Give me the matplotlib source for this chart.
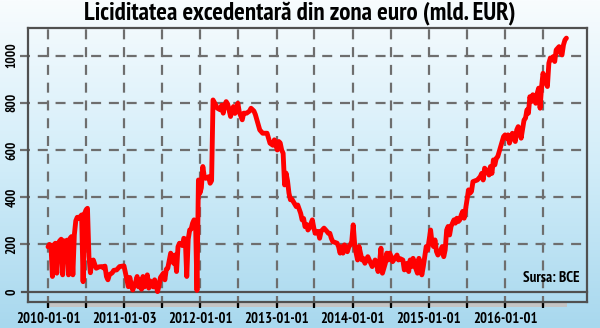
import numpy as np
import pandas as pd
import matplotlib
matplotlib.use('Agg')
import matplotlib.pyplot as plt
import matplotlib.transforms as mtransforms
from matplotlib import font_manager as fm
from matplotlib.patches import Rectangle
from matplotlib.colors import LinearSegmentedColormap

# weekly observations: week number counted from 2010-01-01, value in mld. EUR
weeks = [0, 1, 2, 3, 4, 5, 6, 7, 8, 9, 10, 11, 12, 13, 14, 15, 16, 17, 18, 19,
         20, 21, 22, 23, 24, 25, 26, 27, 28, 29, 30, 31, 32, 33, 35, 37, 38, 39, 40, 41,
         42, 44, 45, 47, 49, 52, 53, 54, 55, 56, 57, 58, 60, 61, 62, 63, 64, 65, 66, 68,
         69, 70, 72, 73, 75, 76, 77, 79, 80, 81, 82, 84, 85, 86, 87, 88, 89, 90, 92, 93,
         94, 95, 96, 97, 98, 99, 100, 101, 102, 103, 104, 105, 106, 107, 108, 110, 111, 112, 113, 114,
         116, 118, 119, 120, 121, 122, 123, 125, 126, 127, 128, 129, 130, 131, 133, 134, 136, 138, 139, 141,
         142, 143, 145, 147, 150, 152, 154, 155, 157, 158, 159, 160, 161, 162, 163, 164, 165, 166, 167, 168,
         170, 171, 173, 174, 175, 176, 177, 178, 179, 181, 182, 183, 184, 185, 186, 187, 189, 191, 192, 193,
         194, 195, 198, 199, 200, 201, 202, 203, 205, 206, 207, 208, 209, 210, 211, 212, 213, 214, 215, 216,
         217, 218, 219, 221, 222, 223, 224, 225, 226, 227, 228, 229, 231, 232, 233, 234, 235, 236, 239, 240,
         241, 243, 244, 246, 247, 248, 249, 250, 251, 253, 254, 255, 256, 257, 258, 259, 260, 262, 263, 264,
         265, 266, 267, 268, 270, 271, 272, 273, 274, 275, 276, 278, 279, 280, 281, 282, 283, 284, 285, 287,
         288, 289, 290, 291, 294, 296, 297, 298, 299, 301, 302, 303, 304, 305, 306, 307, 308, 310, 311, 312,
         313, 314, 315, 316, 318, 319, 320, 321, 322, 323, 324, 326, 327, 328, 329, 330, 331, 332, 334, 335,
         336, 337, 338, 339, 340, 342, 343, 344, 345, 346, 347, 348, 350, 351, 352, 353, 354, 355]
values = [190, 200, 195, 64, 198, 205, 78, 205, 215, 222, 71, 215, 210, 218, 71, 225, 233, 71, 240, 300,
          315, 310, 318, 325, 42, 330, 346, 353, 150, 80, 130, 134, 115, 99, 105, 106, 100, 108, 64, 50,
          71, 80, 90, 92, 106, 109, 80, 50, 21, 60, 30, 7, 40, 64, 20, 45, 10, 64, 20, 71,
          15, 45, 20, 50, 0, 25, 60, 78, 50, 95, 99, 163, 150, 120, 155, 85, 190, 205, 195, 226,
          222, 64, 222, 261, 265, 290, 304, 300, 5, 473, 417, 440, 530, 487, 480, 487, 459, 470, 812, 800,
          777, 770, 790, 756, 790, 805, 795, 742, 770, 784, 755, 770, 798, 760, 728, 756, 756, 765, 777, 765,
          750, 728, 685, 671, 671, 629, 620, 643, 600, 636, 630, 600, 586, 452, 502, 470, 417, 389, 392, 381,
          360, 367, 332, 304, 310, 275, 285, 261, 270, 304, 270, 247, 255, 255, 226, 255, 269, 255, 247, 247,
          226, 212, 205, 190, 163, 190, 163, 198, 169, 190, 198, 212, 283, 200, 163, 134, 191, 163, 134, 140,
          120, 134, 148, 120, 106, 120, 134, 120, 85, 120, 184, 78, 120, 163, 134, 163, 148, 127, 155, 134,
          140, 134, 92, 120, 85, 134, 106, 141, 113, 78, 141, 106, 71, 106, 148, 191, 177, 261, 205, 191,
          219, 170, 155, 163, 191, 148, 177, 261, 276, 240, 276, 304, 290, 311, 297, 304, 325, 340, 311, 389,
          431, 417, 424, 466, 473, 487, 501, 473, 523, 509, 494, 530, 501, 558, 537, 565, 572, 614, 635, 657,
          664, 650, 664, 629, 671, 657, 636, 685, 699, 685, 650, 727, 735, 770, 756, 826, 805, 834, 798, 840,
          862, 777, 868, 925, 897, 869, 968, 990, 982, 996, 975, 1024, 1038, 1010, 1003, 1045, 1066, 1074]

start = '2010-01-01'
grid_dates = pd.date_range('2010-01-01', '2016-07-01', freq='6MS')
tick_dates = ['2010-01-01', '2011-01-01', '2012-01-01', '2013-01-01',
              '2014-01-01', '2015-01-01', '2016-01-01']
tick_labels = ['2010-01-01', '2011-01-03', '2012-01-01', '2013-01-01',
               '2014-01-01', '2015-01-01', '2016-01-01']
yticks = [0, 200, 400, 600, 800, 1000]
title = 'Liciditatea excedentară din zona euro (mld. EUR)'
source = 'Sursa: BCE'


# look for a bold condensed face; fall back to DejaVu Sans Bold
def pick_font():
    good = []
    for f in fm.fontManager.ttflist:
        nm = (f.name + ' ' + str(f.stretch) + ' ' + f.fname).lower()
        w = f.weight if isinstance(f.weight, int) else (700 if 'bold' in str(f.weight) else 400)
        if ('condens' in nm or 'narrow' in nm) and w >= 600 and 'italic' not in nm and 'oblique' not in nm:
            good.append(f)
    good.sort(key=lambda f: ('narrow' not in f.fname.lower(), 'extra' in f.fname.lower(), f.fname))
    if good:
        return fm.FontProperties(fname=good[0].fname), True
    return fm.FontProperties(family='DejaVu Sans', weight='bold'), False


fp, condensed = pick_font()
k = 1.0 if condensed else 0.72

dates = pd.Timestamp(start) + pd.to_timedelta(np.array(weeks) * 7, unit='D')

fig = plt.figure(figsize=(6, 3.28), dpi=100)

# light blue gradient behind everything
bg = fig.add_axes([0, 0, 1, 1], zorder=-10)
cmap = LinearSegmentedColormap.from_list('bg', ['#a8d8ee', '#d2edf9', '#f8fcfe'])
bg.imshow(np.linspace(0, 1, 256).reshape(-1, 1), aspect='auto', cmap=cmap,
          origin='lower', extent=[0, 1, 0, 1])
bg.axis('off')

ax = fig.add_axes([0.0467, 0.0793, 0.9317, 0.8354])
ax.patch.set_alpha(0)
ax.set_xlim(pd.Timestamp('2009-09-27'), pd.Timestamp('2017-01-28'))
ax.set_ylim(-44, 1117)

grid_kw = dict(color='#6e6e6e', lw=1.6, dashes=(4.5, 3.5), clip_on=False, zorder=1)
tx = mtransforms.blended_transform_factory(ax.transData, ax.transAxes)
ty = mtransforms.blended_transform_factory(ax.transAxes, ax.transData)
for d in grid_dates:
    ax.plot([d, d], [-0.015, 1], transform=tx, **grid_kw)
for v in yticks[1:]:
    ax.plot([-0.015, 1], [v, v], transform=ty, **grid_kw)
ax.plot([-0.011, 1], [0, 0], transform=ty, color='#505050', lw=1.6,
        clip_on=False, zorder=2)

# grey band under the frame
band_end = pd.Timestamp('2016-10-24')
x0 = pd.Timestamp(start)
ax.add_patch(Rectangle((x0, -0.019), band_end - x0, 0.019, transform=tx,
                       facecolor='#c4c4c4', edgecolor='none', clip_on=False, zorder=0))

ax.plot(dates, values, color='#ff0000', lw=3.5, solid_joinstyle='round',
        solid_capstyle='round', zorder=5)

for s in ax.spines.values():
    s.set_color('#505050')
    s.set_linewidth(1.6)

labels = []
for d in grid_dates:
    ds = d.strftime('%Y-%m-%d')
    labels.append(tick_labels[tick_dates.index(ds)] if ds in tick_dates else '')
ax.set_xticks(grid_dates)
ax.set_xticklabels(labels, fontproperties=fp, fontsize=10.5 * k)
ax.tick_params(axis='x', length=4.5, width=1.6, color='black', pad=2.5)

ax.set_yticks(yticks)
ax.set_yticklabels([str(v) for v in yticks], rotation=90, va='center',
                   fontproperties=fp, fontsize=9.5 * k)
ax.tick_params(axis='y', length=0, pad=7)

ax.text(0.986, 0.088, source, transform=ax.transAxes, ha='right', va='center',
        fontproperties=fp, fontsize=10.8 * k)

fig.text(0.5, 0.957, title, ha='center', va='center', fontproperties=fp,
         fontsize=18 * (1.0 if condensed else 0.72))

fig.savefig('out.png', dpi=100)
